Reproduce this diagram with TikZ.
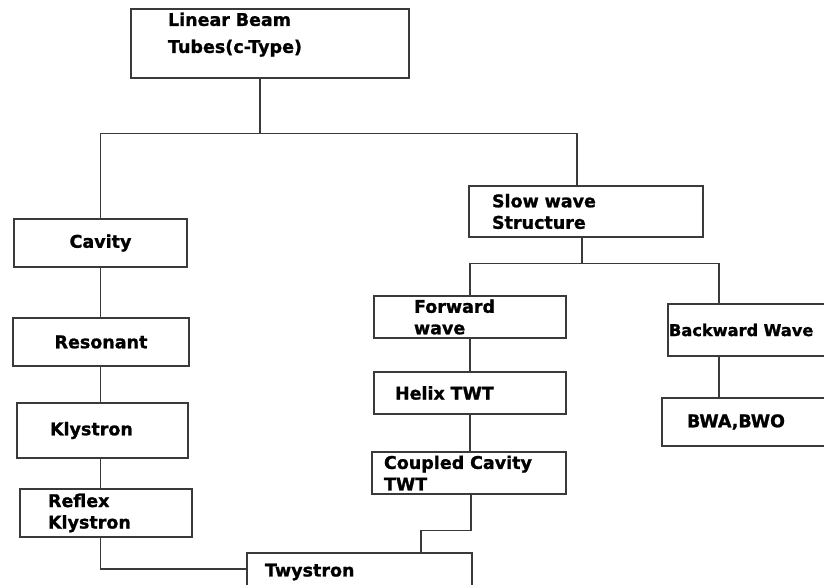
\documentclass[tikz,border=0pt]{standalone}
\usepackage{fontspec}
\setmainfont{DejaVu Sans}[BoldFeatures={FakeBold=1.2}]
\usepackage{tikz}
\usetikzlibrary{positioning}
\definecolor{LineGray}{HTML}{3A3A3A}
\newcommand\tubefont{\fontsize{17.5pt}{21.5pt}\selectfont\bfseries}
\tikzset{
  box/.style={
    rectangle, draw=LineGray, line width=1.3pt,
    inner sep=0pt, font=\tubefont, text=black
  },
  tube node/.style n args={3}{box, minimum width=#1, minimum height=#2,
    text width=#3, align=left},
  mid node/.style 2 args={box, minimum width=#1, minimum height=#2,
    text width=#1, align=center},
  link/.style={line width=1.2pt, color=LineGray},
}

\begin{document}
\begin{tikzpicture}[x=1pt, y=-1pt]
  \useasboundingbox (0,0) rectangle (824,585);
  \clip (0,0) rectangle (824,585);

  \node[tube node={278pt}{69pt}{204pt}] (root) at (270,43.5)
    {Linear Beam\\[5.5pt]Tubes(c-Type)\\\mbox{}};

  % klystron side
  \node[mid node={173pt}{48pt}] (cavity) at (100.5,243) {Cavity};
  \node[mid node={176pt}{48pt}] (resonant) at (101,342) {Resonant};
  \node[tube node={171pt}{55pt}{105pt}] (klystron) at (102.5,430.5) {Klystron};
  \node[tube node={172pt}{48pt}{116pt}] (reflex) at (106,513) {Reflex\\Klystron};
  \node[tube node={225pt}{38pt}{189pt}] (twystron) at (359.5,572) {Twystron};

  % slow wave side
  \node[tube node={234pt}{51pt}{188pt}] (slow) at (586,211.5) {Slow wave\\Structure};
  \node[tube node={192pt}{42pt}{112pt}] (forward) at (470,317) {Forward\\wave};
  \node[tube node={192pt}{42pt}{150pt}] (helix) at (470,393) {Helix~TWT};
  \node[tube node={194pt}{42pt}{170pt}] (coupled) at (469,473) {Coupled~Cavity\\TWT};
  \node[tube node={180pt}{52pt}{178pt}, font=\fontsize{16.2pt}{20pt}\selectfont\bfseries]
    (backward) at (758,330) {Backward~Wave};
  \node[tube node={186pt}{48pt}{136pt}] (bwa) at (755,422) {BWA,BWO};

  \draw[link] ([xshift=-10pt]root.south) -- ++(0,55) -| (cavity.north);
  \draw[link] ([xshift=-10pt]root.south) -- ++(0,55) -| ([xshift=-9pt]slow.north);

  \draw[link] (cavity.south) -- (cavity.south |- resonant.north);
  \draw[link] (cavity.south |- resonant.south) -- (cavity.south |- klystron.north);
  \draw[link] (cavity.south |- klystron.south) -- (cavity.south |- reflex.north);
  \draw[link] (cavity.south |- reflex.south) |- ([yshift=3pt]twystron.west);

  \draw[link] ([xshift=-4pt]slow.south) -- ++(0,26) -| (forward.north);
  \draw[link] ([xshift=-4pt]slow.south) -- ++(0,26) -| ([xshift=-39pt]backward.north);
  \draw[link] ([xshift=-39pt]backward.south) -- ([xshift=-39pt]backward.south |- bwa.north);

  \draw[link] (forward.south) -- (helix.north);
  \draw[link] (helix.south) -- (helix.south |- coupled.north);
  \draw[link] ([xshift=2pt]coupled.south) -- ++(0,36) -| ([xshift=61.5pt]twystron.north);
\end{tikzpicture}
\end{document}
